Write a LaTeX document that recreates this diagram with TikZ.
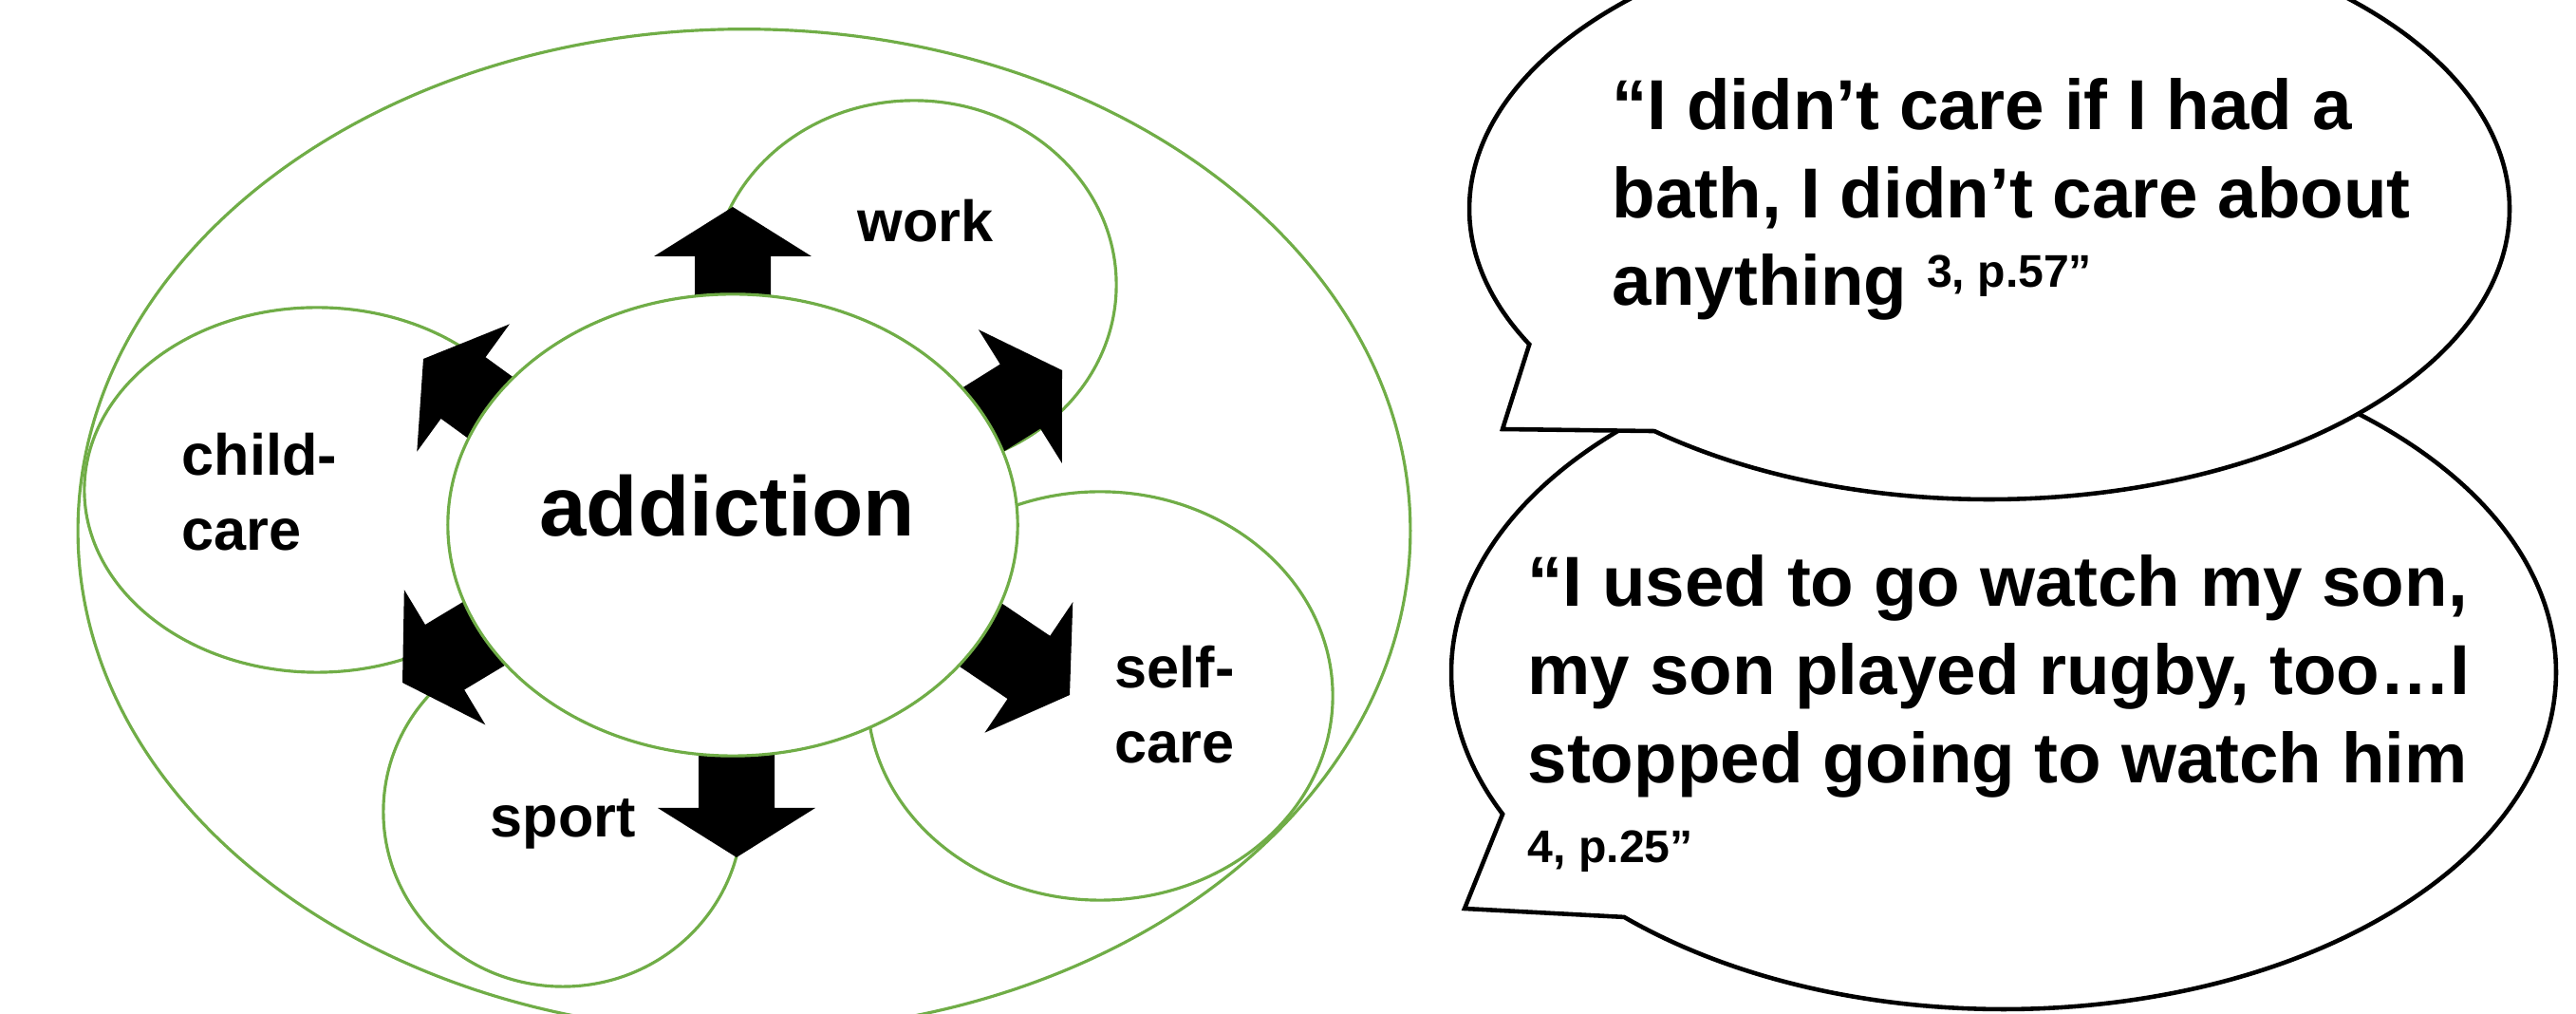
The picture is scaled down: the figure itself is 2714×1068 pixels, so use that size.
\documentclass[tikz,border=0pt]{standalone}
\usepackage{fontspec}
\setmainfont{Liberation Sans}
\usetikzlibrary{shapes.geometric}
\definecolor{ringgreen}{HTML}{70AD47}
\newcommand\BlockArrow[3]{%
    \fill[shift={(#1,#2)},rotate=#3] (0,0) -- (-52,83) -- (-52,40) -- (-125,40) -- (-125,-40) -- (-52,-40) -- (-52,-83) -- cycle;
}
\newcommand\SpeechBubble[8]{%
    \draw[bubble] (#1,#2) ++(#5:#3 and #4) arc[start angle=#5, end angle=#6, x radius=#3, y radius=#4] -- (#7,#8) -- cycle;
}
\newcommand\QuoteRef[1]{{\fontsize{13.7}{16}\selectfont\raisebox{5.4pt}{#1}}}

\begin{document}
\begin{tikzpicture}[x=0.01cm, y=-0.01cm,
    ring/.style={draw=ringgreen, line width=0.9pt, ellipse, inner sep=0pt},
    bubble/.style={draw=black, fill=white, line width=1.3pt, line join=miter},
    domaintext/.style={font=\fontsize{17.4}{22.5}\selectfont\bfseries, align=left, inner sep=0pt},
    quotetext/.style={font=\fontsize{21.2}{26.4}\selectfont\bfseries, align=left, inner sep=0pt}]
    \useasboundingbox (0,0) rectangle (2714,1068);
    \clip (0,0) rectangle (2714,1068);

    \node[ring, minimum width=14.03cm, minimum height=10.56cm] (outer) at (784,559) {};
    \node[ring, minimum width=4.9cm, minimum height=3.84cm] (childcare) at (334,516) {};
    \node[ring, minimum width=4.26cm, minimum height=3.88cm] (work) at (963,300) {};
    \node[ring, minimum width=4.9cm, minimum height=4.3cm] (selfcare) at (1159,733) {};
    \node[ring, minimum width=3.78cm, minimum height=3.68cm] (sport) at (593,855) {};

    \BlockArrow{772}{218}{90}
    \BlockArrow{446}{378}{144}
    \BlockArrow{1119}{390}{32}
    \BlockArrow{1127}{732}{-34}
    \BlockArrow{776}{903}{-90}
    \BlockArrow{424}{719}{211}

    \node[ring, fill=white, minimum width=6cm, minimum height=4.86cm] (addiction) at (772,553) {};
    \node[font=\fontsize{25.3}{30}\selectfont\bfseries, inner sep=0pt, anchor=base] (addictiontext) at (766,565) {addiction};

    \node[domaintext, anchor=base west] (worktext) at (903,255) {work};
    \node[domaintext, anchor=base west] (childcaretext) at (191,580) {child-\\care};
    \node[domaintext, anchor=base west] (selfcaretext) at (1174,804) {self-\\care};
    \node[domaintext, anchor=base west] (sporttext) at (516,882) {sport};

    \SpeechBubble{2111}{708}{582}{355}{133.4}{-204.9}{1543}{957}
    \SpeechBubble{2096}{220}{548}{306}{130.1}{-207.8}{1583}{452}

    \node[quotetext, anchor=base west] (quoteone) at (1698,322) {“I didn’t care if I had a\\bath, I didn’t care about\\anything \QuoteRef{3, p.57”}};
    \node[quotetext, anchor=base west] (quotetwo) at (1609,909) {“I used to go watch my son,\\my son played rugby, too…I\\stopped going to watch him\\[-2.3pt]{\fontsize{13.7}{16}\selectfont 4, p.25”}};
\end{tikzpicture}
\end{document}
